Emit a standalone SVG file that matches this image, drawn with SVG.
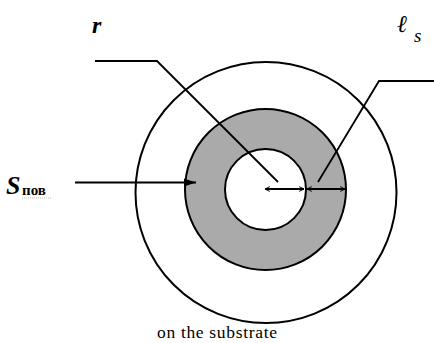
<svg xmlns="http://www.w3.org/2000/svg" width="434" height="343" viewBox="0 0 434 343">
<defs>
<style>
.c{stroke:#000;stroke-width:2}
.l{stroke:#000;stroke-width:1.8;fill:none}
text{font-family:"Liberation Serif","Times New Roman",Times,serif}
</style>
<marker id="open" viewBox="0 0 10 10" refX="9" refY="5" markerWidth="6" markerHeight="6" markerUnits="userSpaceOnUse" orient="auto-start-reverse">
<path d="M1,1 L9,5 L1,9" fill="none" stroke="#000" stroke-width="1.6"/>
</marker>
<marker id="solid" viewBox="0 0 12 10" refX="12" refY="5" markerWidth="13" markerHeight="10" markerUnits="userSpaceOnUse" orient="auto">
<path d="M0,1 L12,5 L0,9 Z" fill="#000"/>
</marker>
</defs>
<rect width="434" height="343" fill="#fff"/>
<g id="outer"><circle cx="266" cy="192.5" r="130.5" fill="none" class="c"/></g>
<g id="ring"><circle cx="265.5" cy="189.5" r="80.5" fill="#aaaaaa" class="c"/></g>
<g id="inner"><circle cx="265.5" cy="189.5" r="40.5" fill="#fff" class="c"/></g>
<g id="connectors">
<polyline class="l" points="95,61 157,61 278,182"/>
<polyline class="l" points="434,81 379,81 318,182"/>
<line class="l" x1="75" y1="182.5" x2="196" y2="182.5" marker-end="url(#solid)"/>
<line class="l" x1="265" y1="189" x2="304" y2="189" marker-start="url(#open)" marker-end="url(#open)"/>
<line class="l" x1="307" y1="189" x2="345" y2="189" marker-start="url(#open)" marker-end="url(#open)"/>
</g>
<g id="labels" fill="#000">
<text x="92" y="33" font-size="24" font-weight="bold" font-style="italic">r</text>
<text x="397" y="32" font-size="24" font-style="italic">ℓ</text>
<text x="414" y="42" font-size="19" font-style="italic">s</text>
<text x="6" y="194" font-size="26" font-weight="bold" font-style="italic">S</text>
<text x="22" y="195" font-size="15" font-weight="bold">пов</text>
<line x1="22" y1="198" x2="52" y2="198" stroke="#bbb" stroke-width="1" stroke-dasharray="1,1"/>
<text x="157" y="338" font-size="17.5" textLength="120" lengthAdjust="spacing">on the substrate</text>
</g>
</svg>
